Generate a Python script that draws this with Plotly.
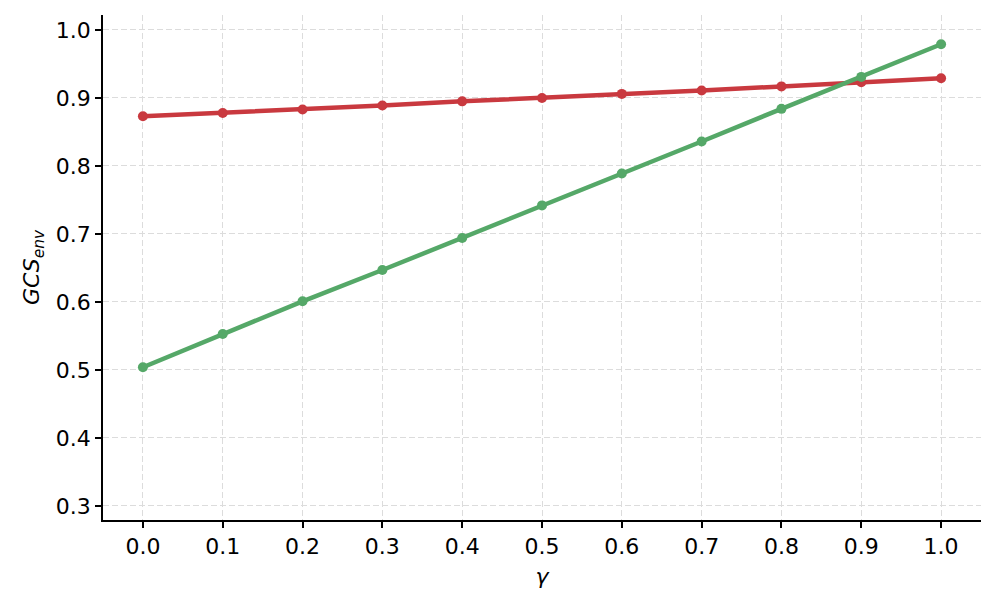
import plotly.graph_objects as go

# gamma values on the x axis
gamma = [0.0, 0.1, 0.2, 0.3, 0.4, 0.5, 0.6, 0.7, 0.8, 0.9, 1.0]

# GCS_env for the two series
gcs_red = [0.873, 0.878, 0.883, 0.889, 0.895, 0.900, 0.906, 0.911, 0.917, 0.923, 0.929]
gcs_green = [0.504, 0.553, 0.601, 0.647, 0.694, 0.742, 0.789, 0.836, 0.884, 0.931, 0.979]

x_ticks = [0.0, 0.1, 0.2, 0.3, 0.4, 0.5, 0.6, 0.7, 0.8, 0.9, 1.0]
y_ticks = [0.3, 0.4, 0.5, 0.6, 0.7, 0.8, 0.9, 1.0]

RED = "#c9393f"
GREEN = "#55a868"

fig = go.Figure()
fig.add_trace(go.Scatter(
    x=gamma, y=gcs_red, mode="lines+markers",
    line=dict(color=RED, width=4.5),
    marker=dict(color=RED, size=10),
    showlegend=False,
))
fig.add_trace(go.Scatter(
    x=gamma, y=gcs_green, mode="lines+markers",
    line=dict(color=GREEN, width=4.5),
    marker=dict(color=GREEN, size=10),
    showlegend=False,
))

axis_common = dict(
    showline=True, linecolor="black", linewidth=1.5,
    ticks="outside", ticklen=6, tickwidth=1.5, tickcolor="black",
    showgrid=True, gridcolor="#dcdcdc", griddash="6px,3px", gridwidth=1.3,
    zeroline=False, mirror=False,
    tickfont=dict(family="DejaVu Sans", size=22, color="black"),
)

# the page body has an 8px margin, so the margins below account for it
fig.update_xaxes(
    range=[-0.05, 1.05], tickvals=x_ticks,
    ticktext=[f"{v:.1f}" for v in x_ticks],
    title=dict(text="<i>γ</i>", font=dict(family="DejaVu Sans", size=22, color="black"), standoff=10),
    **axis_common,
)
fig.update_yaxes(
    range=[0.2794, 1.022], tickvals=y_ticks,
    ticktext=[f"{v:.1f}" for v in y_ticks],
    title=dict(text="<i>GCS<sub>env</sub></i>", font=dict(family="DejaVu Sans", size=22, color="black"), standoff=10),
    **axis_common,
)

fig.update_layout(
    width=997, height=608,
    margin=dict(l=95, r=24, t=7, b=96),
    plot_bgcolor="white", paper_bgcolor="white",
    font=dict(family="DejaVu Sans", color="black"),
)

fig.write_html("out.html")
